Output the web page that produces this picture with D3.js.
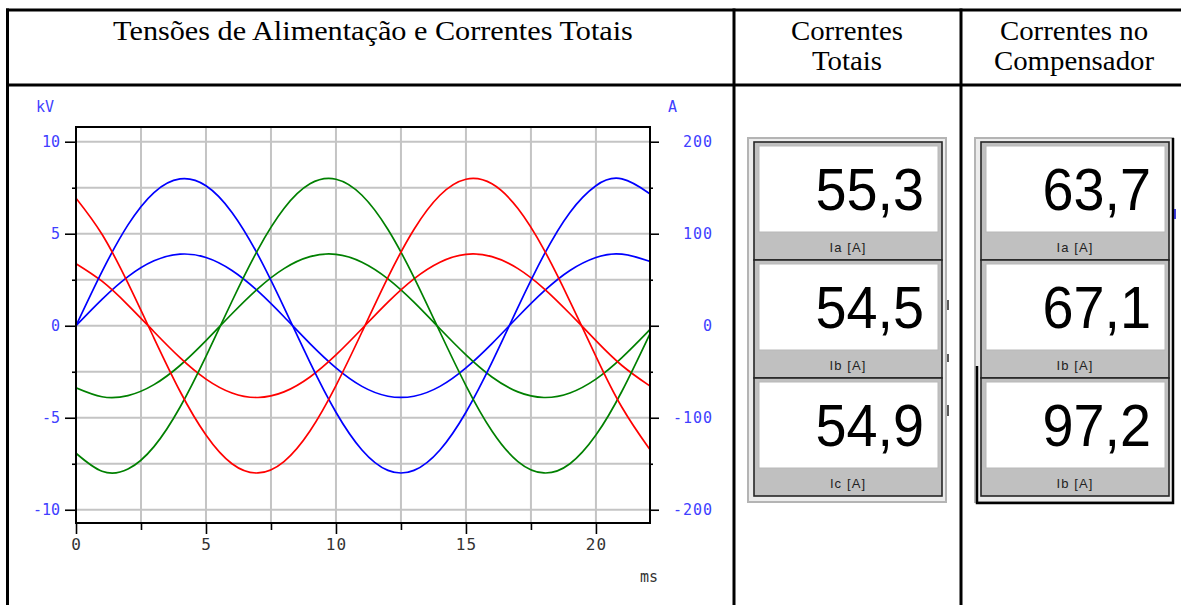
<!DOCTYPE html>
<html><head><meta charset="utf-8">
<script src="https://cdn.jsdelivr.net/npm/d3@7"></script>
<style>
html,body{margin:0;padding:0;background:#fff;}
svg{display:block;}
</style></head>
<body>
<svg id="c" width="1181" height="605"></svg>
<script>
// ---------- data ----------
const timeMs = [0,1,2,3,4,5,6,7,8,9,10,11,12,13,14,15,16,17,18,19,20,21,22,22.08];
// supply voltages, kV (left axis)
const voltA = [0.00,2.94,5.48,7.24,7.98,7.61,6.16,3.85,1.00,-1.99,-4.70,-6.75,-7.86,-7.86,-6.75,-4.70,-1.99,1.00,3.85,6.16,7.61,7.98,7.24,7.13];
const voltB = [-6.93,-7.91,-7.79,-6.57,-4.43,-1.66,1.33,4.14,6.37,7.71,7.96,7.09,5.23,2.63,-0.34,-3.25,-5.72,-7.38,-8.00,-7.50,-5.94,-3.56,-0.67,-0.43];
const voltC = [6.93,4.97,2.31,-0.67,-3.56,-5.94,-7.50,-8.00,-7.38,-5.72,-3.25,-0.34,2.63,5.23,7.09,7.96,7.71,6.37,4.14,1.33,-1.66,-4.43,-6.57,-6.70];
// total currents, A (right axis)
const currA = [0.0,28.7,53.4,70.6,77.8,74.2,60.1,37.6,9.8,-19.4,-45.8,-65.9,-76.6,-76.6,-65.9,-45.8,-19.4,9.8,37.6,60.1,74.2,77.8,70.6,69.5];
const currB = [-67.5,-77.2,-75.9,-64.0,-43.2,-16.2,13.0,40.4,62.1,75.1,77.6,69.1,51.0,25.7,-3.3,-31.7,-55.7,-71.9,-78.0,-73.1,-58.0,-34.7,-6.5,-4.2];
const currC = [67.5,48.4,22.5,-6.5,-34.7,-58.0,-73.1,-78.0,-71.9,-55.7,-31.7,-3.3,25.7,51.0,69.1,77.6,75.1,62.1,40.4,13.0,-16.2,-43.2,-64.0,-65.4];

const kvTicks = [-10,-5,0,5,10];
const kvMinor = [-7.5,-2.5,2.5,7.5];
const kvGrid = [-10,-7.5,-5,-2.5,0,2.5,5,7.5,10];
const ampTicks = [-200,-100,0,100,200];
const ampMinor = [-150,-50,50,150];
const timeTicks = [0,5,10,15,20];
const timeMinor = [2.5,7.5,12.5,17.5];
const timeGrid = [2.5,5,7.5,10,12.5,15,17.5,20];

const headerMain = "Tensões de Alimentação e Correntes Totais";
const headerTotal = ["Correntes","Totais"];
const headerComp = ["Correntes no","Compensador"];
const totalLabels = ["Ia [A]","Ib [A]","Ic [A]"];
const totalValues = [55.3,54.5,54.9];
const compLabels = ["Ia [A]","Ib [A]","Ib [A]"];
const compValues = [63.7,67.1,97.2];

// ---------- drawing ----------
const svg = d3.select("#c");
const fmt = d3.formatLocale({decimal:",",thousands:".",grouping:[3],currency:["",""]}).format(".1f");

const x = d3.scaleLinear().domain([0,22.08]).range([76,650]);
const y = d3.scaleLinear().domain([-10.72,10.8]).range([523,127]);
const yA = d3.scaleLinear().domain([-214.4,216]).range([523,127]);

// table lines
const tbl = svg.append("g").attr("stroke","#000").attr("stroke-width",3);
tbl.append("line").attr("x1",6).attr("x2",1181).attr("y1",10).attr("y2",10);
tbl.append("line").attr("x1",6).attr("x2",1181).attr("y1",85).attr("y2",85);
tbl.append("line").attr("x1",7.5).attr("x2",7.5).attr("y1",8.5).attr("y2",605);
tbl.append("line").attr("x1",734).attr("x2",734).attr("y1",8.5).attr("y2",605);
tbl.append("line").attr("x1",961).attr("x2",961).attr("y1",8.5).attr("y2",605);

// headers
const hf = "'Liberation Serif','Times New Roman',serif";
svg.append("text").attr("transform","translate(373,40) scale(1.08,1)")
  .attr("text-anchor","middle").attr("font-family",hf).attr("font-size",28).attr("fill","#000").text(headerMain);
headerTotal.forEach((t,i)=>svg.append("text").attr("transform",`translate(847,${40+i*30}) scale(1.03,1)`)
  .attr("text-anchor","middle").attr("font-family",hf).attr("font-size",28).text(t));
headerComp.forEach((t,i)=>svg.append("text").attr("transform",`translate(1074,${40+i*30}) scale(1.03,1)`)
  .attr("text-anchor","middle").attr("font-family",hf).attr("font-size",28).text(t));

// grid
const grid = svg.append("g").attr("stroke","#c4c4c4").attr("stroke-width",2);
grid.selectAll("line.h").data(kvGrid).join("line").attr("class","h")
  .attr("x1",76).attr("x2",650).attr("y1",d=>y(d)).attr("y2",d=>y(d));
grid.selectAll("line.v").data(timeGrid).join("line").attr("class","v")
  .attr("y1",127).attr("y2",523).attr("x1",d=>x(d)).attr("x2",d=>x(d));

// curves
svg.append("clipPath").attr("id","pc").append("rect").attr("x",76).attr("y",127).attr("width",574).attr("height",396);
const cg = svg.append("g").attr("clip-path","url(#pc)");
const lineV = d3.line().x((d,i)=>x(timeMs[i])).y(d=>y(d)).curve(d3.curveNatural);
const lineA = d3.line().x((d,i)=>x(timeMs[i])).y(d=>yA(d)).curve(d3.curveNatural);
const series = [
  {v:currA,a:true,c:"#0000ff"},{v:currB,a:true,c:"#008000"},{v:currC,a:true,c:"#ff0000"},
  {v:voltA,a:false,c:"#0000ff"},{v:voltB,a:false,c:"#008000"},{v:voltC,a:false,c:"#ff0000"}
];
series.forEach(s=>cg.append("path").attr("d",(s.a?lineA:lineV)(s.v))
  .attr("fill","none").attr("stroke",s.c).attr("stroke-width",1.7));

// frame
svg.append("rect").attr("x",76).attr("y",127).attr("width",574).attr("height",396)
  .attr("fill","none").attr("stroke","#000").attr("stroke-width",2);

// axes
const mono = "'DejaVu Sans Mono','Liberation Mono',monospace";
function style(g, color){
  g.select(".domain").remove();
  g.selectAll(".tick line").attr("stroke","#000").attr("stroke-width",1.6);
  g.selectAll(".tick text").attr("fill",color).attr("font-family",mono).attr("font-size",15);
}
svg.append("g").attr("transform","translate(76,0)")
  .call(d3.axisLeft(y).tickValues(kvTicks).tickSize(11).tickPadding(5).tickFormat(d=>String(d)))
  .call(g=>style(g,"#4040ff"));
svg.append("g").attr("transform","translate(76,0)")
  .call(d3.axisLeft(y).tickValues(kvMinor).tickSize(4).tickFormat(""))
  .call(g=>style(g,"#4040ff"));
svg.append("g").attr("transform","translate(650,0)")
  .call(d3.axisRight(yA).tickValues(ampTicks).tickSize(9).tickFormat(d=>String(d)))
  .call(g=>{style(g,"#4040ff"); g.selectAll(".tick text").attr("x",63).attr("text-anchor","end").attr("letter-spacing",1);});
svg.append("g").attr("transform","translate(650,0)")
  .call(d3.axisRight(yA).tickValues(ampMinor).tickSize(3).tickFormat(""))
  .call(g=>style(g,"#4040ff"));
svg.append("g").attr("transform","translate(0,523)")
  .call(d3.axisBottom(x).tickValues(timeTicks).tickSize(11).tickPadding(5).tickFormat(d=>String(d)))
  .call(g=>{style(g,"#333"); g.selectAll(".tick text").attr("font-size",16).attr("letter-spacing",1);});
svg.append("g").attr("transform","translate(0,523)")
  .call(d3.axisBottom(x).tickValues(timeMinor).tickSize(7).tickFormat(""))
  .call(g=>style(g,"#333"));

// unit labels
svg.append("text").attr("x",36).attr("y",112).attr("font-family",mono).attr("font-size",15).attr("fill","#4040ff").text("kV");
svg.append("text").attr("x",668).attr("y",112).attr("font-family",mono).attr("font-size",15).attr("fill","#4040ff").text("A");
svg.append("text").attr("x",640).attr("y",582).attr("font-family",mono).attr("font-size",15).attr("fill","#333").text("ms");

// meter panels
function panel(x0, values, labels){
  const g = svg.append("g");
  g.append("rect").attr("x",x0-6).attr("y",138).attr("width",198).attr("height",364)
    .attr("fill","#ececec").attr("stroke","#b4b4b4").attr("stroke-width",2);
  values.forEach((v,i)=>{
    const y0 = 142 + i*118;
    g.append("rect").attr("x",x0).attr("y",y0).attr("width",188).attr("height",118)
      .attr("fill","#c0c0c0").attr("stroke","#262626").attr("stroke-width",1.6);
    g.append("rect").attr("x",x0+5).attr("y",y0+4).attr("width",179).attr("height",86)
      .attr("fill","#fff").attr("stroke","#b8b8b8").attr("stroke-width",1);
    g.append("text").attr("transform",`translate(${x0+170},${y0+68}) scale(0.93,1)`)
      .attr("text-anchor","end").attr("font-family","'Liberation Sans',Arial,sans-serif")
      .attr("font-size",60).attr("fill","#000").text(fmt(v));
    g.append("text").attr("x",x0+94).attr("y",y0+110).attr("text-anchor","middle")
      .attr("font-family","'Liberation Sans',Arial,sans-serif").attr("font-size",13)
      .attr("letter-spacing",1.1).attr("fill","#222").text(labels[i]);
  });
  return g;
}
panel(754, totalValues, totalLabels);
const p2 = panel(981, compValues, compLabels);
p2.append("path").attr("d","M977,366 V503 H1173 V138").attr("fill","none").attr("stroke","#000").attr("stroke-width",2.5);

// small marks beside the panels
const marks = [[948,300,310,"#222"],[948,354,362,"#222"],[948,405,416,"#222"],[1175,209,219,"#0000cc"]];
svg.selectAll("line.mk").data(marks).join("line").attr("class","mk")
  .attr("x1",d=>d[0]).attr("x2",d=>d[0]).attr("y1",d=>d[1]).attr("y2",d=>d[2])
  .attr("stroke",d=>d[3]).attr("stroke-width",1.5);
</script>
</body></html>
